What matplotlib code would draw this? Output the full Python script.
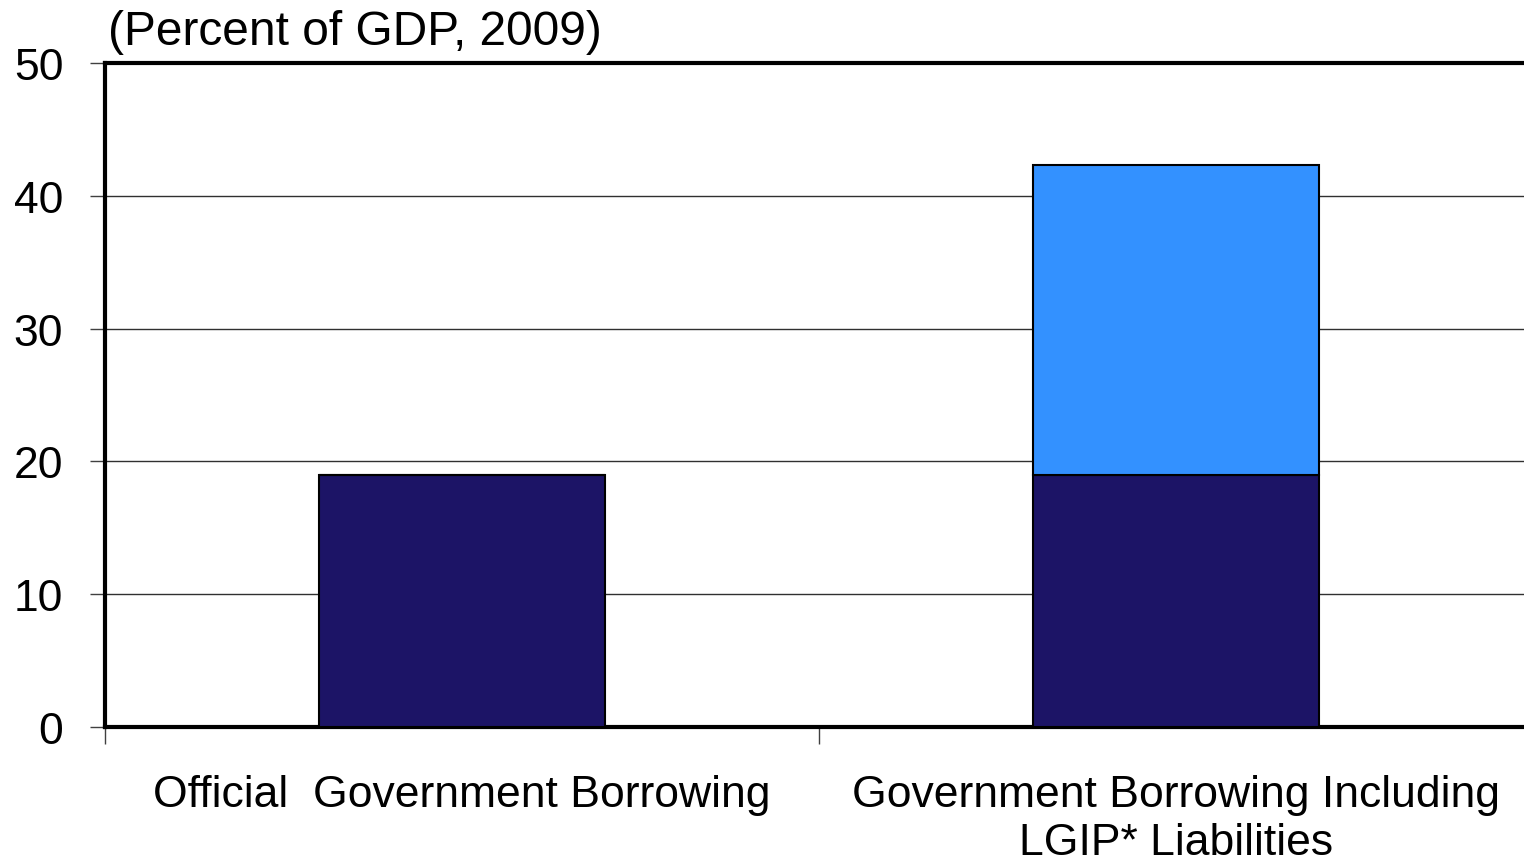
import matplotlib
matplotlib.use("Agg")
import matplotlib.pyplot as plt

categories = ["Official  Government Borrowing",
              "Government Borrowing Including\nLGIP* Liabilities"]
official = [19.0, 19.0]
lgip = [0.0, 23.3]
yticks = [0, 10, 20, 30, 40, 50]

NAVY = "#1c1466"
BLUE = "#3391ff"

plt.rcParams["font.family"] = ["Liberation Sans", "DejaVu Sans"]

fig = plt.figure(figsize=(15.24, 8.62), dpi=100)
ax = fig.add_axes([105 / 1524, 134 / 862, 1428 / 1524, 664 / 862])

x = list(range(len(categories)))
ax.bar(x, official, width=0.4, color=NAVY, edgecolor="black", linewidth=1.5, zorder=3)
ax.bar(x, lgip, width=0.4, bottom=official, color=BLUE, edgecolor="black",
       linewidth=1.5, zorder=3)

ax.set_xlim(-0.5, 1.5)
ax.set_ylim(0, 50)
ax.set_yticks(yticks)
ax.set_yticklabels([str(v) for v in yticks], fontsize=32)
ax.tick_params(axis="y", length=11, width=1, pad=19, color="#404040")

ax.set_xticks(x)
ax.set_xticklabels(categories, fontsize=32, linespacing=1.2)
ax.tick_params(axis="x", which="major", length=0, pad=34)
ax.set_xticks([-0.5, 0.5, 1.5], minor=True)
ax.tick_params(axis="x", which="minor", length=12, width=1, color="#404040")
ax.get_xticklabels()[0].set_x(-0.01)

ax.yaxis.grid(True, color="#303030", linewidth=1.0, zorder=0)
ax.set_axisbelow(True)
for side in ["top", "left", "bottom", "right"]:
    ax.spines[side].set_linewidth(3)
    ax.spines[side].set_color("black")

fig.text(108 / 1524, (862 - 45) / 862, "(Percent of GDP, 2009)", fontsize=34.5,
         ha="left", va="baseline")

fig.savefig("out.png", dpi=100)
